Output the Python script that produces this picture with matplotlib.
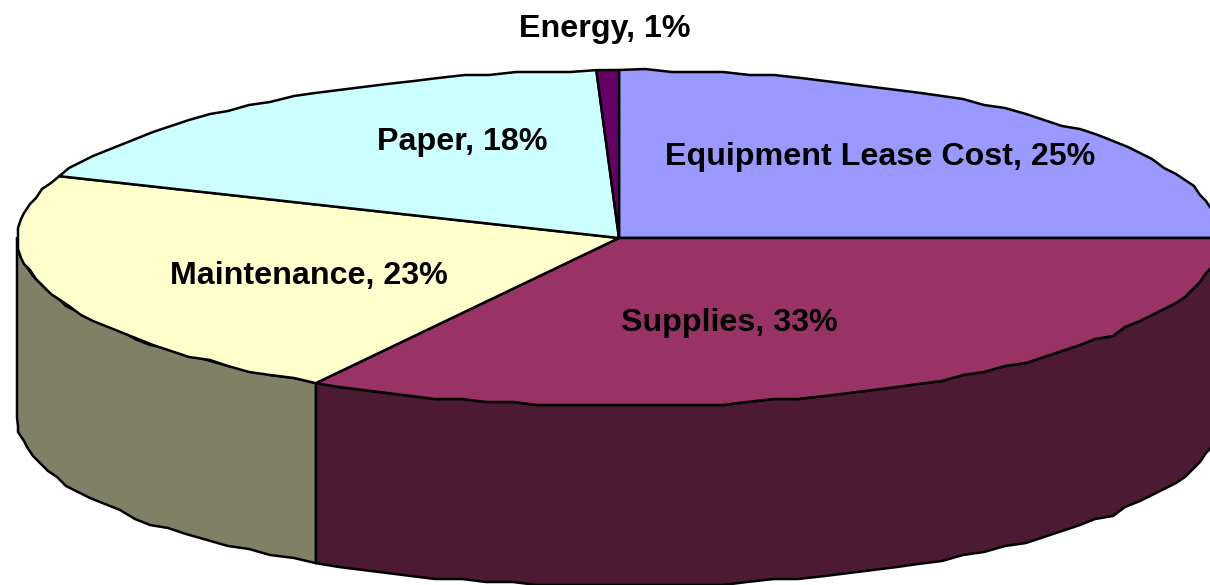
import numpy as np
import matplotlib
matplotlib.use('agg')
import matplotlib.pyplot as plt
from matplotlib.patches import Polygon

labels = ['Equipment Lease Cost', 'Supplies', 'Maintenance', 'Paper', 'Energy']
shown_pct = [25, 33, 23, 18, 1]
values = [25.0, 33.4, 22.6, 18.4, 0.6]  # read from the slice edges, the labels are rounded
top_colors = ['#9999FF', '#993366', '#FFFFCC', '#CCFFFF', '#660066']
side_colors = ['#4D4D80', '#4D1A33', '#808066', '#668080', '#330033']
label_pos = [(880, 157), (729, 323), (309, 276), (462, 142), (605, 29)]

# pie geometry in pixels
cx, cy = 619, 238
rx, ry = 602, 168
depth = 180
grid = 3  # the original rim is stepped, snap the points to a coarse grid


def rim(a0, a1, step=2.5):
    # points on the ellipse, angle clockwise from the top in degrees
    n = max(int(abs(a1 - a0) / step), 1)
    a = np.radians(np.linspace(a0, a1, n + 1))
    x = cx + rx * np.sin(a)
    y = cy - ry * np.cos(a)
    x[1:-1] = np.round(x[1:-1] / grid) * grid
    y[1:-1] = np.round(y[1:-1] / grid) * grid
    return x, y


fig = plt.figure(figsize=(12.1, 5.85), dpi=100)
ax = fig.add_axes([0, 0, 1, 1])
ax.set_xlim(0, 1210)
ax.set_ylim(585, 0)
ax.axis('off')

edges = np.cumsum([0] + values) / sum(values) * 360

# side wall first, only the front half of the rim shows (90 to 270 degrees)
for i in range(len(values)):
    a0, a1 = max(edges[i], 90), min(edges[i + 1], 270)
    if a1 <= a0:
        continue
    x, y = rim(a0, a1)
    pts = np.r_[np.c_[x, y], np.c_[x, y + depth][::-1]]
    ax.add_patch(Polygon(pts, closed=True, fc=side_colors[i], ec='black', lw=1.8, joinstyle='round'))

# top face
for i in range(len(values)):
    x, y = rim(edges[i], edges[i + 1])
    pts = np.r_[[[cx, cy]], np.c_[x, y]]
    ax.add_patch(Polygon(pts, closed=True, fc=top_colors[i], ec='black', lw=1.8, joinstyle='round'))

for name, pct, (tx, ty) in zip(labels, shown_pct, label_pos):
    ax.text(tx, ty, '%s, %d%%' % (name, pct), ha='center', va='center', color='black',
            family='Liberation Sans', weight='bold', fontsize=23.2)

fig.savefig('out.png', dpi=100)
